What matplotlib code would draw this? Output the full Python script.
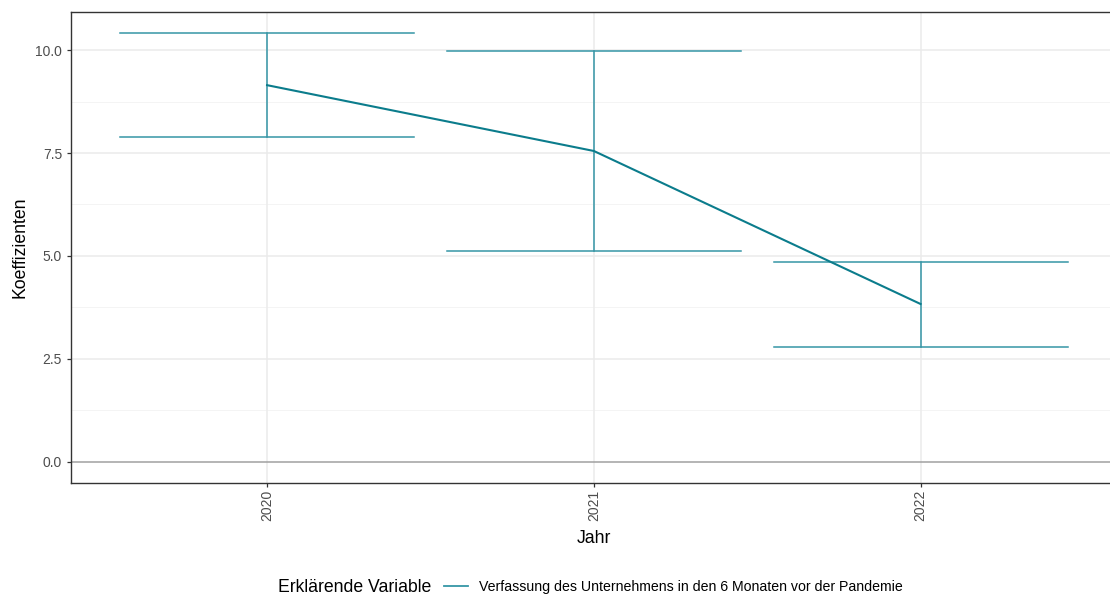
import matplotlib.pyplot as plt
from matplotlib.lines import Line2D

plt.rcParams['font.family'] = ['Liberation Sans', 'DejaVu Sans']

# coefficients with their confidence bounds per year
years = ['2020', '2021', '2022']
coef = [9.15, 7.55, 3.83]
lower = [7.89, 5.12, 2.79]
upper = [10.41, 9.98, 4.85]
series_label = 'Verfassung des Unternehmens in den 6 Monaten vor der Pandemie'

line_col = '#0b7c8c'
bar_col = '#3596a6'

fig = plt.figure(figsize=(11.1, 5.97), dpi=100)
ax = fig.add_axes([0.064, 0.191, 0.942, 0.789])

x = list(range(len(years)))

# grid like theme_bw
for v in [1.25, 3.75, 6.25, 8.75]:
    ax.axhline(v, color='#f2f2f2', lw=0.6, zorder=0)
for v in [2.5, 5.0, 7.5, 10.0]:
    ax.axhline(v, color='#ebebeb', lw=1.1, zorder=0)
for xi in x:
    ax.axvline(xi, color='#ebebeb', lw=1.1, zorder=0)
ax.axhline(0, color='#a0a0a0', lw=1.1, zorder=1)

# error bars
half = 0.45
for xi, lo, hi in zip(x, lower, upper):
    ax.plot([xi - half, xi + half], [hi, hi], color=bar_col, lw=1.1, zorder=2)
    ax.plot([xi - half, xi + half], [lo, lo], color=bar_col, lw=1.1, zorder=2)
    ax.plot([xi, xi], [lo, hi], color=bar_col, lw=1.1, zorder=2)

ax.plot(x, coef, color=line_col, lw=1.5, zorder=3)

ax.set_xlim(-0.6, 2.6)
ax.set_ylim(-0.52, 10.93)
ax.set_xticks(x)
ax.set_xticklabels(years, rotation=90, va='top')
ax.set_yticks([0, 2.5, 5.0, 7.5, 10.0])
ax.set_yticklabels(['0.0', '2.5', '5.0', '7.5', '10.0'])
ax.tick_params(axis='both', colors='#333333', labelcolor='#4d4d4d',
               labelsize=10, length=3, width=0.9)
ax.tick_params(axis='x', pad=2)
for s in ax.spines.values():
    s.set_color('#333333')
    s.set_linewidth(1.0)

ax.set_xlabel('Jahr', fontsize=12.7, labelpad=6)
ax.set_ylabel('Koeffizienten', fontsize=12.7, labelpad=5)

# legend below the plot: title on the left, key and label beside it
fig.text(278 / 1110, 1 - 587 / 597, 'Erklärende Variable', fontsize=12.7,
         ha='left', va='center')
handle = Line2D([], [], color=bar_col, lw=1.3)
fig.legend([handle], [series_label], loc='center left',
           bbox_to_anchor=(444 / 1110, 1 - 587 / 597), frameon=False,
           fontsize=10.2, handlelength=1.7, handletextpad=0.8,
           borderpad=0, borderaxespad=0)

fig.savefig('out.png', dpi=100)
